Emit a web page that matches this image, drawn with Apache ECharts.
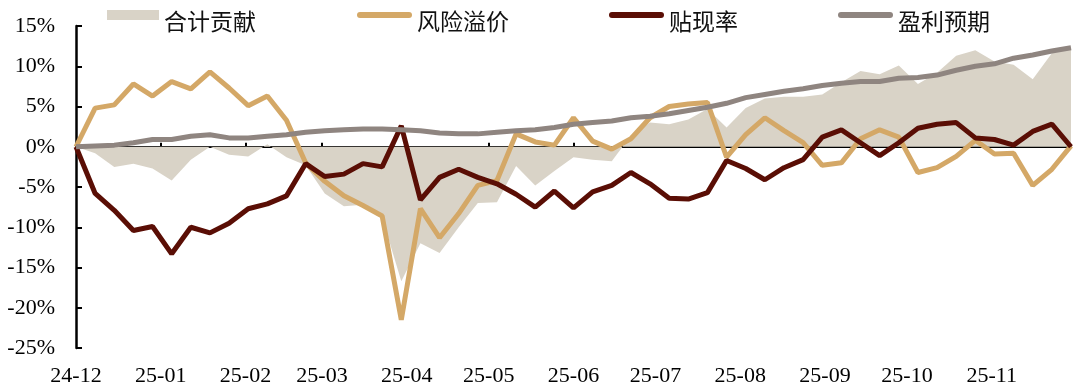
<!DOCTYPE html>
<html><head><meta charset="utf-8">
<script src="https://cdn.jsdelivr.net/npm/echarts@6/dist/echarts.min.js"></script>
<style>html,body{margin:0;padding:0;background:#fff}#c{width:1080px;height:391px}</style>
</head><body><div id="c"></div>
<script>
// weekly observation dates
const dates = [
  '2024-12-01','2024-12-08','2024-12-15','2024-12-22','2024-12-29',
  '2025-01-05','2025-01-12','2025-01-19','2025-01-26',
  '2025-02-02','2025-02-09','2025-02-16','2025-02-23',
  '2025-03-02','2025-03-09','2025-03-16','2025-03-23','2025-03-30',
  '2025-04-06','2025-04-13','2025-04-20','2025-04-27',
  '2025-05-04','2025-05-11','2025-05-18','2025-05-25',
  '2025-06-01','2025-06-08','2025-06-15','2025-06-22','2025-06-29',
  '2025-07-06','2025-07-13','2025-07-20','2025-07-27',
  '2025-08-03','2025-08-10','2025-08-17','2025-08-24','2025-08-31',
  '2025-09-07','2025-09-14','2025-09-21','2025-09-28',
  '2025-10-05','2025-10-12','2025-10-19','2025-10-26',
  '2025-11-02','2025-11-09','2025-11-16','2025-11-23','2025-11-30'
];
// 合计贡献 (%)
const totalContribution = [
  0, -0.8, -2.5, -2.1, -2.7, -4.2, -1.6, 0.0, -1.0, -1.2,
  0.3, -1.3, -2.3, -5.8, -7.4, -7.2, -8.8, -16.7, -12.0, -13.2,
  -10.0, -7.0, -6.9, -2.4, -4.8, -3.0, -1.3, -1.6, -1.8, 1.4,
  3.0, 2.8, 3.4, 4.7, 2.4, 4.8, 6.0, 6.2, 6.2, 6.5,
  8.0, 9.4, 9.0, 10.1, 7.8, 9.2, 11.3, 12.0, 10.6, 10.2,
  8.4, 11.6, 12.3
];
// 风险溢价 (%)
const riskPremium = [
  0, 4.8, 5.2, 7.8, 6.3, 8.1, 7.2, 9.3, 7.3, 5.1,
  6.3, 3.3, -2.0, -4.3, -6.1, -7.3, -8.6, -21.5, -7.7, -11.3,
  -8.3, -4.8, -4.2, 1.6, 0.6, 0.2, 3.6, 0.7, -0.3, 1.0,
  3.6, 5.0, 5.3, 5.5, -1.3, 1.5, 3.6, 2.0, 0.5, -2.3,
  -2.0, 1.0, 2.1, 1.2, -3.2, -2.6, -1.2, 0.8, -0.9, -0.8,
  -4.8, -2.8, 0.1
];
// 贴现率 (%)
const discountRate = [
  0, -5.8, -7.9, -10.4, -9.9, -13.3, -10.0, -10.7, -9.5, -7.7,
  -7.1, -6.1, -2.1, -3.7, -3.4, -2.1, -2.5, 2.6, -6.6, -3.8,
  -2.8, -3.8, -4.6, -5.9, -7.5, -5.5, -7.6, -5.6, -4.8, -3.2,
  -4.6, -6.4, -6.5, -5.7, -1.7, -2.7, -4.1, -2.6, -1.6, 1.2,
  2.1, 0.5, -1.1, 0.5, 2.3, 2.8, 3.0, 1.1, 0.9, 0.2,
  1.9, 2.8, 0.0
];
// 盈利预期 (%)
const earningsExpectation = [
  0, 0.1, 0.2, 0.5, 0.9, 0.9, 1.3, 1.5, 1.1, 1.1,
  1.3, 1.5, 1.8, 2.0, 2.1, 2.2, 2.2, 2.1, 2.0, 1.7,
  1.6, 1.6, 1.8, 2.0, 2.1, 2.4, 2.8, 3.0, 3.2, 3.6,
  3.8, 4.1, 4.5, 4.9, 5.4, 6.1, 6.5, 6.9, 7.2, 7.6,
  7.9, 8.1, 8.1, 8.5, 8.6, 8.9, 9.5, 10.0, 10.3, 11.0,
  11.4, 11.9, 12.3
];
// x-axis month ticks and labels
const tickMonths = ['2024-12-01','2025-01-01','2025-02-01','2025-03-01','2025-04-01','2025-05-01',
  '2025-06-01','2025-07-01','2025-08-01','2025-09-01','2025-10-01','2025-11-01'];
const tickLabels = ['24-12','25-01','25-02','25-03','25-04','25-05','25-06','25-07','25-08','25-09','25-10','25-11'];

// day offsets from the first date (value axis along time)
function ts(s){ const p = s.split('-'); return Date.UTC(+p[0], +p[1]-1, +p[2]); }
const t0 = ts(dates[0]);
function dayOf(s){ return Math.round((ts(s) - t0) / 86400000); }
const tickDays = tickMonths.map(dayOf);
function pairs(arr){ return dates.map((d,i)=>[dayOf(d), arr[i]]); }

const serif = '"Liberation Serif","Times New Roman",serif';
const cjk = '"Noto Sans CJK SC","Noto Sans",sans-serif';
const capsule = 'path://M3,0 L52,0 A3,3 0 0 1 52,6 L3,6 A3,3 0 0 1 3,0 Z';
const legendText = {
  color: '#111',
  rich: {
    g: {fontSize: 2, lineHeight: 12},
    t: {fontFamily: cjk, fontSize: 23, lineHeight: 28, color: '#111'}
  }
};
const legendFmt = function(n){ return '{g| }\n{t|' + n + '}'; };

const chart = echarts.init(document.getElementById('c'));
chart.setOption({
  animation: false,
  backgroundColor: '#fff',
  grid: {left: 76, right: 9, top: 26, bottom: 43, containLabel: false, outerBoundsMode: 'none'},
  legend: [
    {data: [{name: '合计贡献', icon: 'rect'}], left: 107, top: 0, padding: 0,
     itemWidth: 52, itemHeight: 10, selectedMode: false, textStyle: legendText, formatter: legendFmt},
    {data: [{name: '风险溢价', icon: capsule}, {name: '贴现率', icon: capsule}, {name: '盈利预期', icon: capsule}],
     left: 357, top: 0, padding: 0, itemWidth: 55, itemHeight: 6, itemGap: 100,
     selectedMode: false, textStyle: legendText, formatter: legendFmt}
  ],
  xAxis: {
    type: 'value',
    min: 0, max: dayOf(dates[dates.length-1]),
    axisLine: {show: true, onZero: true, lineStyle: {color: '#000', width: 2}},
    axisTick: {show: true, inside: true, length: 4, customValues: tickDays, lineStyle: {color: '#000', width: 2}},
    axisLabel: {customValues: tickDays, margin: 17, fontFamily: serif, fontSize: 22, color: '#000',
      hideOverlap: false,
      formatter: function(v){ const k = tickDays.indexOf(v); return k >= 0 ? tickLabels[k] : ''; }},
    splitLine: {show: false}
  },
  yAxis: {
    type: 'value', min: -25, max: 15, interval: 5,
    axisLine: {show: true, lineStyle: {color: '#000', width: 2.5}},
    axisTick: {show: true, inside: true, length: 6, lineStyle: {color: '#000', width: 2}},
    axisLabel: {margin: 21, fontFamily: serif, fontSize: 22, color: '#000', formatter: '{value}%',
      showMinLabel: true, showMaxLabel: true, hideOverlap: false},
    splitLine: {show: false}
  },
  series: [
    {name: '合计贡献', type: 'line', data: pairs(totalContribution), symbol: 'none',
     color: '#D9D3C7', lineStyle: {width: 0, color: '#D9D3C7'},
     areaStyle: {color: '#D9D3C7', opacity: 1}, z: 1, emphasis: {disabled: true}},
    {name: '风险溢价', type: 'line', data: pairs(riskPremium), symbol: 'none',
     color: '#D4A867', lineStyle: {width: 5, color: '#D4A867'}, z: 2, emphasis: {disabled: true}},
    {name: '贴现率', type: 'line', data: pairs(discountRate), symbol: 'none',
     color: '#5A0E05', lineStyle: {width: 5, color: '#5A0E05'}, z: 3, emphasis: {disabled: true}},
    {name: '盈利预期', type: 'line', data: pairs(earningsExpectation), symbol: 'none',
     color: '#8F8580', lineStyle: {width: 5, color: '#8F8580'}, z: 4, emphasis: {disabled: true}}
  ]
});
</script></body></html>
